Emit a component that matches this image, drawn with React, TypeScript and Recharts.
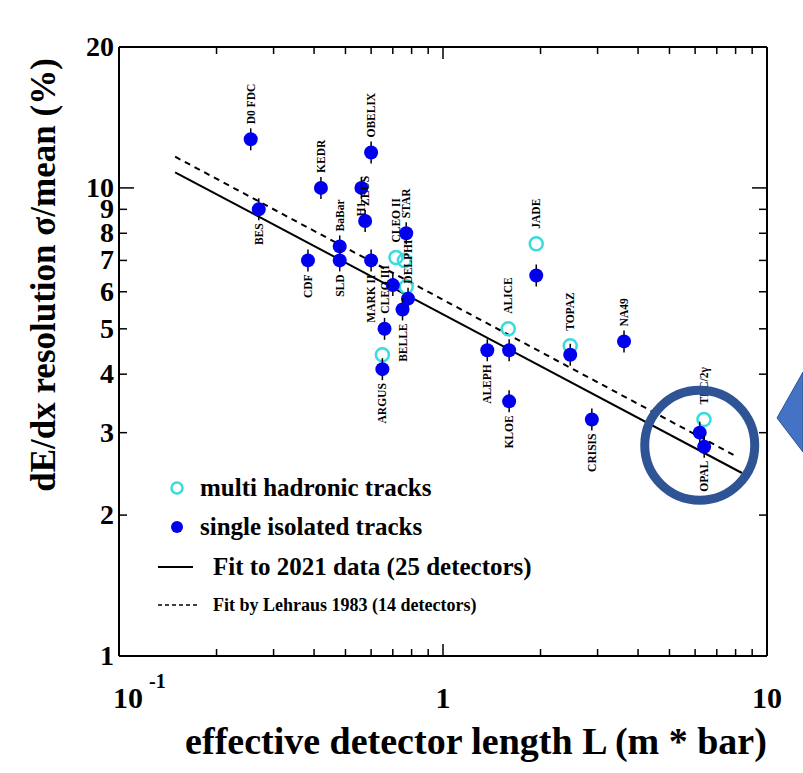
import { ScatterChart, Scatter, XAxis, YAxis, ReferenceDot } from "recharts";

const FONT = "'Liberation Serif', 'Times New Roman', serif";
const BLUE = "#0000ee";
const CYAN = "#38dcdc";
const RING = "#2f5496";

// single isolated tracks (filled)
const singleNames = ["D0 FDC", "BES", "KEDR", "OBELIX", "H1", "ZEUS", "BaBar", "SLD", "CDF", "MARK II", "STAR", "", "DELPHI", "BELLE", "CLEO III", "ARGUS", "", "", "ALEPH", "KLOE", "", "NA49", "CRISIS", "", "OPAL"];
const singleL = [0.255, 0.27, 0.42, 0.6, 0.56, 0.575, 0.48, 0.48, 0.383, 0.6, 0.77, 0.7, 0.78, 0.75, 0.66, 0.65, 1.94, 1.6, 1.37, 1.6, 2.47, 3.62, 2.88, 6.2, 6.4];
const singleSigma = [12.7, 9.0, 10.0, 11.9, 10.0, 8.5, 7.5, 7.0, 7.0, 7.0, 8.0, 6.2, 5.8, 5.5, 5.0, 4.1, 6.5, 4.5, 4.5, 3.5, 4.4, 4.7, 3.2, 3.0, 2.8];

// multi hadronic tracks (open)
const multiNames = ["CLEO II", "", "", "", "JADE", "ALICE", "TOPAZ", "TPC/2γ"];
const multiL = [0.716, 0.76, 0.77, 0.65, 1.94, 1.59, 2.47, 6.39];
const multiSigma = [7.1, 7.0, 6.15, 4.4, 7.6, 5.0, 4.6, 3.2];

// fits (end points)
const fitL = [0.149, 8.37];
const fit2021 = [10.8, 2.46];
const lehrausL = [0.149, 7.96];
const lehraus1983 = [11.66, 2.68];

const xTicks = [0.1, 0.2, 0.3, 0.4, 0.5, 0.6, 0.7, 0.8, 0.9, 1, 2, 3, 4, 5, 6, 7, 8, 9, 10];
const yTicks = [1, 2, 3, 4, 5, 6, 7, 8, 9, 10, 20];

// labels written under the point instead of above
const BELOW = new Set(["BES", "H1", "SLD", "CDF", "MARK II", "BELLE", "ARGUS", "ALEPH", "KLOE", "CRISIS", "OPAL"]);

const singleData = singleL.map((x, i) => ({ x, y: singleSigma[i], name: singleNames[i] }));
const multiData = multiL.map((x, i) => ({ x, y: multiSigma[i], name: multiNames[i] }));
const fitData = fitL.map((x, i) => ({ x, y: fit2021[i] }));
const lehrausData = lehrausL.map((x, i) => ({ x, y: lehraus1983[i] }));

function PointLabel({ cx, cy, name }: any) {
  if (!name) return null;
  const below = BELOW.has(name);
  const ty = below ? cy + 14 : cy - 15;
  return (
    <text
      x={cx + 4}
      y={ty}
      transform={`rotate(-90 ${cx + 4} ${ty})`}
      textAnchor={below ? "end" : "start"}
      fontFamily={FONT}
      fontWeight="bold"
      fontSize={11.5}
      fill="#000"
    >
      {name}
    </text>
  );
}

function FilledDot(props: any) {
  const { cx, cy, payload } = props;
  return (
    <g>
      <line x1={cx} y1={cy - 11} x2={cx} y2={cy + 11} stroke="#000" strokeWidth={1.5} />
      <circle cx={cx} cy={cy} r={7} fill={BLUE} />
      <PointLabel cx={cx} cy={cy} name={payload.name} />
    </g>
  );
}

function OpenDot(props: any) {
  const { cx, cy, payload } = props;
  return (
    <g>
      <circle cx={cx} cy={cy} r={6.5} fill="none" stroke={CYAN} strokeWidth={2.5} />
      <PointLabel cx={cx} cy={cy} name={payload.name} />
    </g>
  );
}

const isMajorX = (v: number) => v === 0.1 || v === 1 || v === 10;

function BottomTick({ x, y, payload }: any) {
  const v = payload.value;
  const len = isMajorX(v) ? 12 : 7;
  return (
    <g>
      <line x1={x} y1={y} x2={x} y2={y - len} stroke="#000" strokeWidth={1.5} />
      {v === 0.1 && (
        <text x={x - 6} y={y + 52} fontFamily={FONT} fontWeight="bold" fontSize={30} fill="#000">
          10
          <tspan dx={6} dy={-20} fontSize={20}>-1</tspan>
        </text>
      )}
      {(v === 1 || v === 10) && (
        <text x={x} y={y + 52} textAnchor="middle" fontFamily={FONT} fontWeight="bold" fontSize={30} fill="#000">
          {v}
        </text>
      )}
    </g>
  );
}

function TopTick({ x, y, payload }: any) {
  const len = isMajorX(payload.value) ? 12 : 7;
  return <line x1={x} y1={y} x2={x} y2={y + len} stroke="#000" strokeWidth={1.5} />;
}

function LeftTick({ x, y, payload }: any) {
  const v = payload.value;
  const len = v === 10 ? 15 : 8;
  return (
    <g>
      <line x1={x} y1={y} x2={x + len} y2={y} stroke="#000" strokeWidth={1.5} />
      <text x={x - 5} y={y + 9} textAnchor="end" fontFamily={FONT} fontWeight="bold" fontSize={28} fill="#000">
        {v}
      </text>
    </g>
  );
}

function RightTick({ x, y, payload }: any) {
  const len = payload.value === 10 ? 15 : 8;
  return <line x1={x} y1={y} x2={x - len} y2={y} stroke="#000" strokeWidth={1.5} />;
}

const noShape = () => <g />;

export default function App() {
  const axisLine = { stroke: "#000", strokeWidth: 2 };
  return (
    <div style={{ position: "absolute", left: 0, top: 0, width: 803, height: 773, background: "#fff" }}>
      <ScatterChart width={803} height={773} margin={{ top: 45, right: 34, bottom: 57, left: 59 }}>
        <XAxis
          dataKey="x" type="number" scale="log" domain={[0.1, 10]} allowDataOverflow
          ticks={xTicks} interval={0} height={60} tickSize={0} tickMargin={0}
          axisLine={axisLine} tickLine={false} tick={<BottomTick />}
        />
        <XAxis
          xAxisId="top" orientation="top" dataKey="x" type="number" scale="log" domain={[0.1, 10]} allowDataOverflow
          ticks={xTicks} interval={0} height={2} tickSize={0} tickMargin={0}
          axisLine={axisLine} tickLine={false} tick={<TopTick />}
        />
        <YAxis
          dataKey="y" type="number" scale="log" domain={[1, 20]} allowDataOverflow
          ticks={yTicks} interval={0} width={60} tickSize={0} tickMargin={0}
          axisLine={axisLine} tickLine={false} tick={<LeftTick />}
        />
        <YAxis
          yAxisId="right" orientation="right" dataKey="y" type="number" scale="log" domain={[1, 20]} allowDataOverflow
          ticks={yTicks} interval={0} width={2} tickSize={0} tickMargin={0}
          axisLine={axisLine} tickLine={false} tick={<RightTick />}
        />
        <Scatter data={fitData} line={{ stroke: "#000", strokeWidth: 2 }} shape={noShape} isAnimationActive={false} />
        <Scatter data={lehrausData} line={{ stroke: "#000", strokeWidth: 2, strokeDasharray: "6 5" }} shape={noShape} isAnimationActive={false} />
        <Scatter data={multiData} shape={<OpenDot />} isAnimationActive={false} />
        <Scatter data={singleData} shape={<FilledDot />} isAnimationActive={false} />
        <ReferenceDot x={6.2} y={2.82} r={55} fill="none" stroke={RING} strokeWidth={9} ifOverflow="visible" />
      </ScatterChart>

      <svg width={803} height={773} style={{ position: "absolute", left: 0, top: 0, pointerEvents: "none" }}>
        <text
          x={55} y={275} transform="rotate(-90 55 275)" textAnchor="middle"
          fontFamily={FONT} fontWeight="bold" fontSize={35} fill="#000"
        >
          dE/dx resolution σ/mean (%)
        </text>
        <text x={476} y={754} textAnchor="middle" fontFamily={FONT} fontWeight="bold" fontSize={38} fill="#000">
          effective detector length L (m * bar)
        </text>

        {/* legend */}
        <circle cx={177} cy={488} r={5.5} fill="none" stroke={CYAN} strokeWidth={2.5} />
        <text x={200} y={496} fontFamily={FONT} fontWeight="bold" fontSize={25} fill="#000">multi hadronic tracks</text>
        <circle cx={177} cy={527} r={6} fill={BLUE} />
        <text x={200} y={535} fontFamily={FONT} fontWeight="bold" fontSize={25} fill="#000">single isolated tracks</text>
        <line x1={158} y1={567} x2={193} y2={567} stroke="#000" strokeWidth={2} />
        <text x={213} y={575} fontFamily={FONT} fontWeight="bold" fontSize={25} fill="#000">Fit to 2021 data (25 detectors)</text>
        <line x1={158} y1={605} x2={197} y2={605} stroke="#000" strokeWidth={1.5} strokeDasharray="4 3" />
        <text x={213} y={611} fontFamily={FONT} fontWeight="bold" fontSize={18} fill="#000">Fit by Lehraus 1983 (14 detectors)</text>

        {/* pointer arrow at the right edge */}
        <polygon points="777,418 803,372 803,452" fill="#4472c4" stroke="#2f5496" strokeWidth={1} />
      </svg>
    </div>
  );
}
